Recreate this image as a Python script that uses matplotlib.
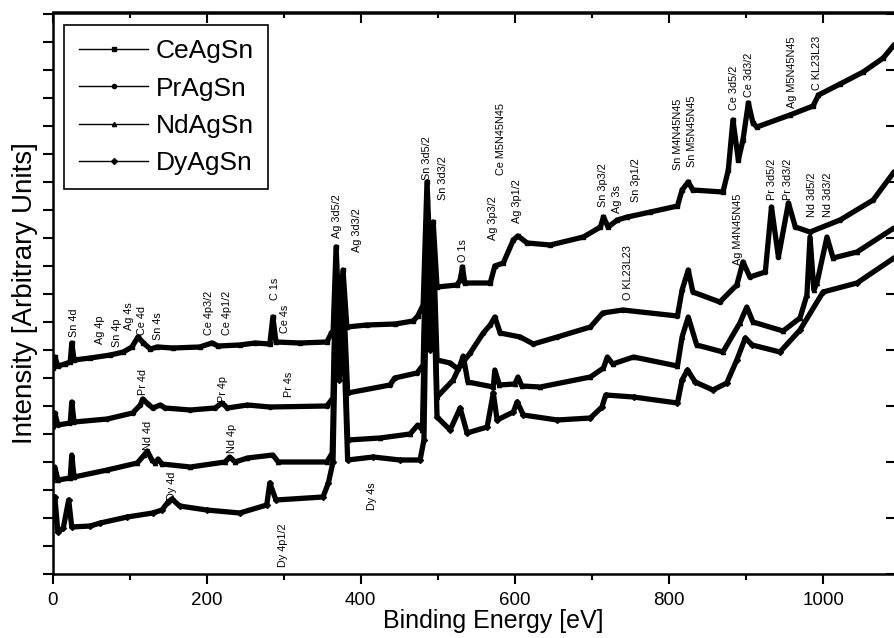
import matplotlib
matplotlib.use('Agg')
import matplotlib.pyplot as plt
from matplotlib.lines import Line2D
from matplotlib.ticker import MultipleLocator, NullFormatter

plt.rcParams['font.family'] = ['Liberation Sans', 'DejaVu Sans']

samples = ['CeAgSn', 'PrAgSn', 'NdAgSn', 'DyAgSn']
markers = ['s', 'o', '^', 'D']

# survey spectra, binding energy [eV] and stacked intensity [arb. units]
ce_energy = [0, 3, 7, 16, 23, 25, 28, 49, 75, 92, 103, 111, 118, 127, 136, 156, 191, 207, 215, 243,
             263, 282, 286, 290, 321, 356, 362, 364, 368, 372, 377, 382, 408, 445, 468, 474, 481, 486, 490, 494,
             499, 525, 529, 532, 535, 568, 574, 585, 598, 604, 616, 646, 689, 711, 715, 721, 733, 746, 776, 811,
             817, 825, 831, 870, 877, 883, 890, 896, 903, 909, 914, 957, 987, 994, 1022, 1052, 1078, 1092]
ce_counts = [206, 217, 208, 210, 212, 231, 214, 216, 219, 222, 227, 237, 231, 225, 227, 226, 227, 231, 228, 229,
             231, 230, 257, 232, 231, 232, 241, 239, 327, 254, 304, 247, 249, 250, 253, 258, 269, 392, 314, 352,
             287, 289, 294, 307, 291, 291, 308, 311, 334, 338, 331, 329, 337, 347, 357, 347, 354, 357, 362, 368,
             384, 392, 384, 382, 404, 454, 414, 434, 471, 451, 447, 459, 468, 479, 490, 502, 516, 529]

pr_energy = [0, 3, 7, 23, 25, 28, 71, 104, 114, 117, 124, 130, 140, 146, 179, 211, 220, 227, 253, 282,
             356, 364, 368, 372, 377, 383, 438, 444, 473, 481, 486, 490, 494, 499, 516, 526, 542, 559, 568, 574,
             581, 607, 624, 655, 698, 714, 740, 811, 817, 825, 831, 866, 888, 896, 905, 925, 933, 942, 955, 964,
             983, 1022, 1065, 1092]
pr_counts = [147, 161, 149, 151, 172, 152, 155, 161, 169, 175, 170, 166, 169, 166, 164, 166, 171, 166, 169, 167,
             168, 176, 309, 244, 289, 181, 189, 196, 201, 209, 374, 274, 334, 214, 211, 205, 221, 241, 249, 257,
             241, 237, 230, 237, 247, 261, 264, 258, 284, 304, 282, 272, 289, 312, 297, 302, 367, 317, 371, 347,
             342, 354, 374, 402]

nd_energy = [0, 3, 7, 23, 25, 28, 71, 110, 119, 123, 129, 133, 137, 142, 179, 224, 230, 237, 253, 286,
             293, 356, 363, 368, 372, 377, 383, 425, 464, 474, 480, 486, 490, 494, 499, 520, 529, 533, 539, 572,
             574, 580, 600, 604, 609, 633, 698, 715, 720, 727, 754, 811, 817, 825, 836, 870, 892, 901, 909, 948,
             970, 979, 983, 988, 992, 1005, 1013, 1044, 1092]
nd_counts = [94, 107, 94, 96, 119, 97, 104, 111, 119, 123, 114, 111, 115, 110, 107, 112, 117, 112, 116, 119,
             112, 112, 121, 294, 224, 274, 134, 136, 140, 149, 144, 359, 254, 319, 177, 194, 209, 218, 192, 187,
             204, 189, 190, 197, 188, 187, 197, 206, 217, 210, 217, 208, 237, 257, 229, 222, 251, 267, 252, 243,
             256, 279, 337, 284, 291, 337, 316, 322, 346]

dy_energy = [0, 3, 7, 14, 21, 25, 49, 62, 97, 130, 142, 150, 155, 165, 200, 243, 278, 282, 290, 351,
             358, 364, 368, 372, 377, 383, 416, 451, 477, 482, 486, 490, 494, 499, 516, 529, 538, 564, 572, 577,
             598, 603, 611, 655, 698, 713, 718, 754, 811, 817, 824, 834, 857, 875, 888, 899, 908, 944, 970, 1000,
             1044, 1092]
dy_counts = [54, 77, 42, 46, 74, 47, 48, 51, 57, 61, 64, 72, 75, 68, 64, 61, 69, 91, 74, 77,
             91, 112, 274, 194, 254, 114, 117, 114, 114, 134, 334, 224, 304, 157, 144, 166, 141, 147, 181, 154,
             162, 172, 159, 154, 156, 167, 179, 177, 171, 194, 204, 192, 184, 191, 214, 236, 229, 222, 244, 282,
             291, 316]

energies = [ce_energy, pr_energy, nd_energy, dy_energy]
counts = [ce_counts, pr_counts, nd_counts, dy_counts]

# peak assignments: label, energy, height of the label foot
peak_names = ['Sn 4d', 'Ag 4p', 'Sn 4p', 'Ag 4s', 'Ce 4d', 'Sn 4s', 'Ce 4p3/2', 'Ce 4p1/2', 'C 1s', 'Ce 4s',
              'Pr 4d', 'Pr 4p', 'Pr 4s', 'Nd 4d', 'Nd 4p', 'Dy 4d', 'Dy 4p1/2', 'Dy 4s',
              'Ag 3d5/2', 'Ag 3d3/2', 'Sn 3d5/2', 'Sn 3d3/2', 'O 1s', 'Ag 3p3/2', 'Ce M5N45N45', 'Ag 3p1/2',
              'Sn 3p3/2', 'Ag 3s', 'Sn 3p1/2', 'Sn M4N45N45', 'Sn M5N45N45', 'Ce 3d5/2', 'Ce 3d3/2',
              'Ag M5N45N45', 'C KL23L23', 'O KL23L23', 'Ag M4N45N45', 'Pr 3d5/2', 'Pr 3d3/2',
              'Nd 3d5/2', 'Nd 3d3/2']
peak_x = [28, 62, 84, 99, 116, 137, 203, 226, 289, 302,
          117, 221, 307, 124, 233, 155, 299, 415,
          369, 395, 486, 507, 533, 572, 582, 603,
          714, 733, 757, 812, 830, 884, 904,
          960, 992, 747, 890, 934, 955,
          986, 1007]
peak_y = [237, 230, 227, 244, 239, 234, 239, 239, 274, 241,
          179, 172, 177, 124, 121, 74, 7, 64,
          336, 322, 394, 374, 312, 334, 399, 351,
          367, 361, 372, 404, 407, 464, 477,
          466, 484, 274, 309, 374, 374,
          357, 357]

fig = plt.figure(figsize=(8.94, 6.38), dpi=100)
ax = fig.add_axes([52.5 / 894, 64 / 638, 1 - 52.5 / 894, 561.5 / 638])

for e, c, m in zip(energies, counts, markers):
    ax.plot(e, c, color='black', lw=3.8, solid_joinstyle='round', solid_capstyle='round',
            marker=m, ms=3, mfc='black', mec='black')

for name, x, y in zip(peak_names, peak_x, peak_y):
    ax.text(x, y, name, rotation=90, ha='center', va='bottom', fontsize=7.8)

ax.set_xlim(0, 1092)
ax.set_ylim(0, 561.5)

ax.xaxis.set_major_locator(MultipleLocator(200))
ax.xaxis.set_minor_locator(MultipleLocator(100))
ax.tick_params(axis='x', which='major', direction='out', length=7, width=1.5, labelsize=13.5, pad=6)
ax.tick_params(axis='x', which='minor', direction='out', length=4, width=1.5)
ax.yaxis.set_major_locator(MultipleLocator(28))
ax.yaxis.set_major_formatter(NullFormatter())
ax.tick_params(axis='y', direction='out', length=7, width=1.5)

top = ax.secondary_xaxis('top')
top.xaxis.set_major_locator(MultipleLocator(200))
top.xaxis.set_minor_locator(MultipleLocator(100))
top.xaxis.set_major_formatter(NullFormatter())
top.tick_params(which='major', direction='in', length=8, width=1.5)
top.tick_params(which='minor', direction='in', length=4, width=1.5)

right = ax.secondary_yaxis('right')
right.yaxis.set_major_locator(MultipleLocator(56))
right.yaxis.set_major_formatter(NullFormatter())
right.tick_params(direction='in', length=6, width=1.5)
right.spines['right'].set_visible(False)

for side in ['left', 'bottom', 'top']:
    ax.spines[side].set_linewidth(1.8)
ax.spines['right'].set_visible(False)
top.spines['top'].set_linewidth(1.8)

ax.set_xlabel('Binding Energy [eV]', fontsize=18)
ax.xaxis.set_label_coords(0.524, -0.063)
ax.set_ylabel('Intensity [Arbitrary Units]', fontsize=20)
ax.yaxis.set_label_coords(-0.017, 0.5)

handles = [Line2D([], [], color='black', lw=1, marker=m, ms=3) for m in markers]
leg = ax.legend(handles, samples, loc='upper left', bbox_to_anchor=(0.0137, 0.978), borderaxespad=0,
                fontsize=19, frameon=True, fancybox=False, edgecolor='black', framealpha=1,
                handlelength=2.65, handletextpad=0.27, labelspacing=0.5, borderpad=0.55)
leg.get_frame().set_linewidth(1.2)

fig.savefig('out.png', dpi=100)
